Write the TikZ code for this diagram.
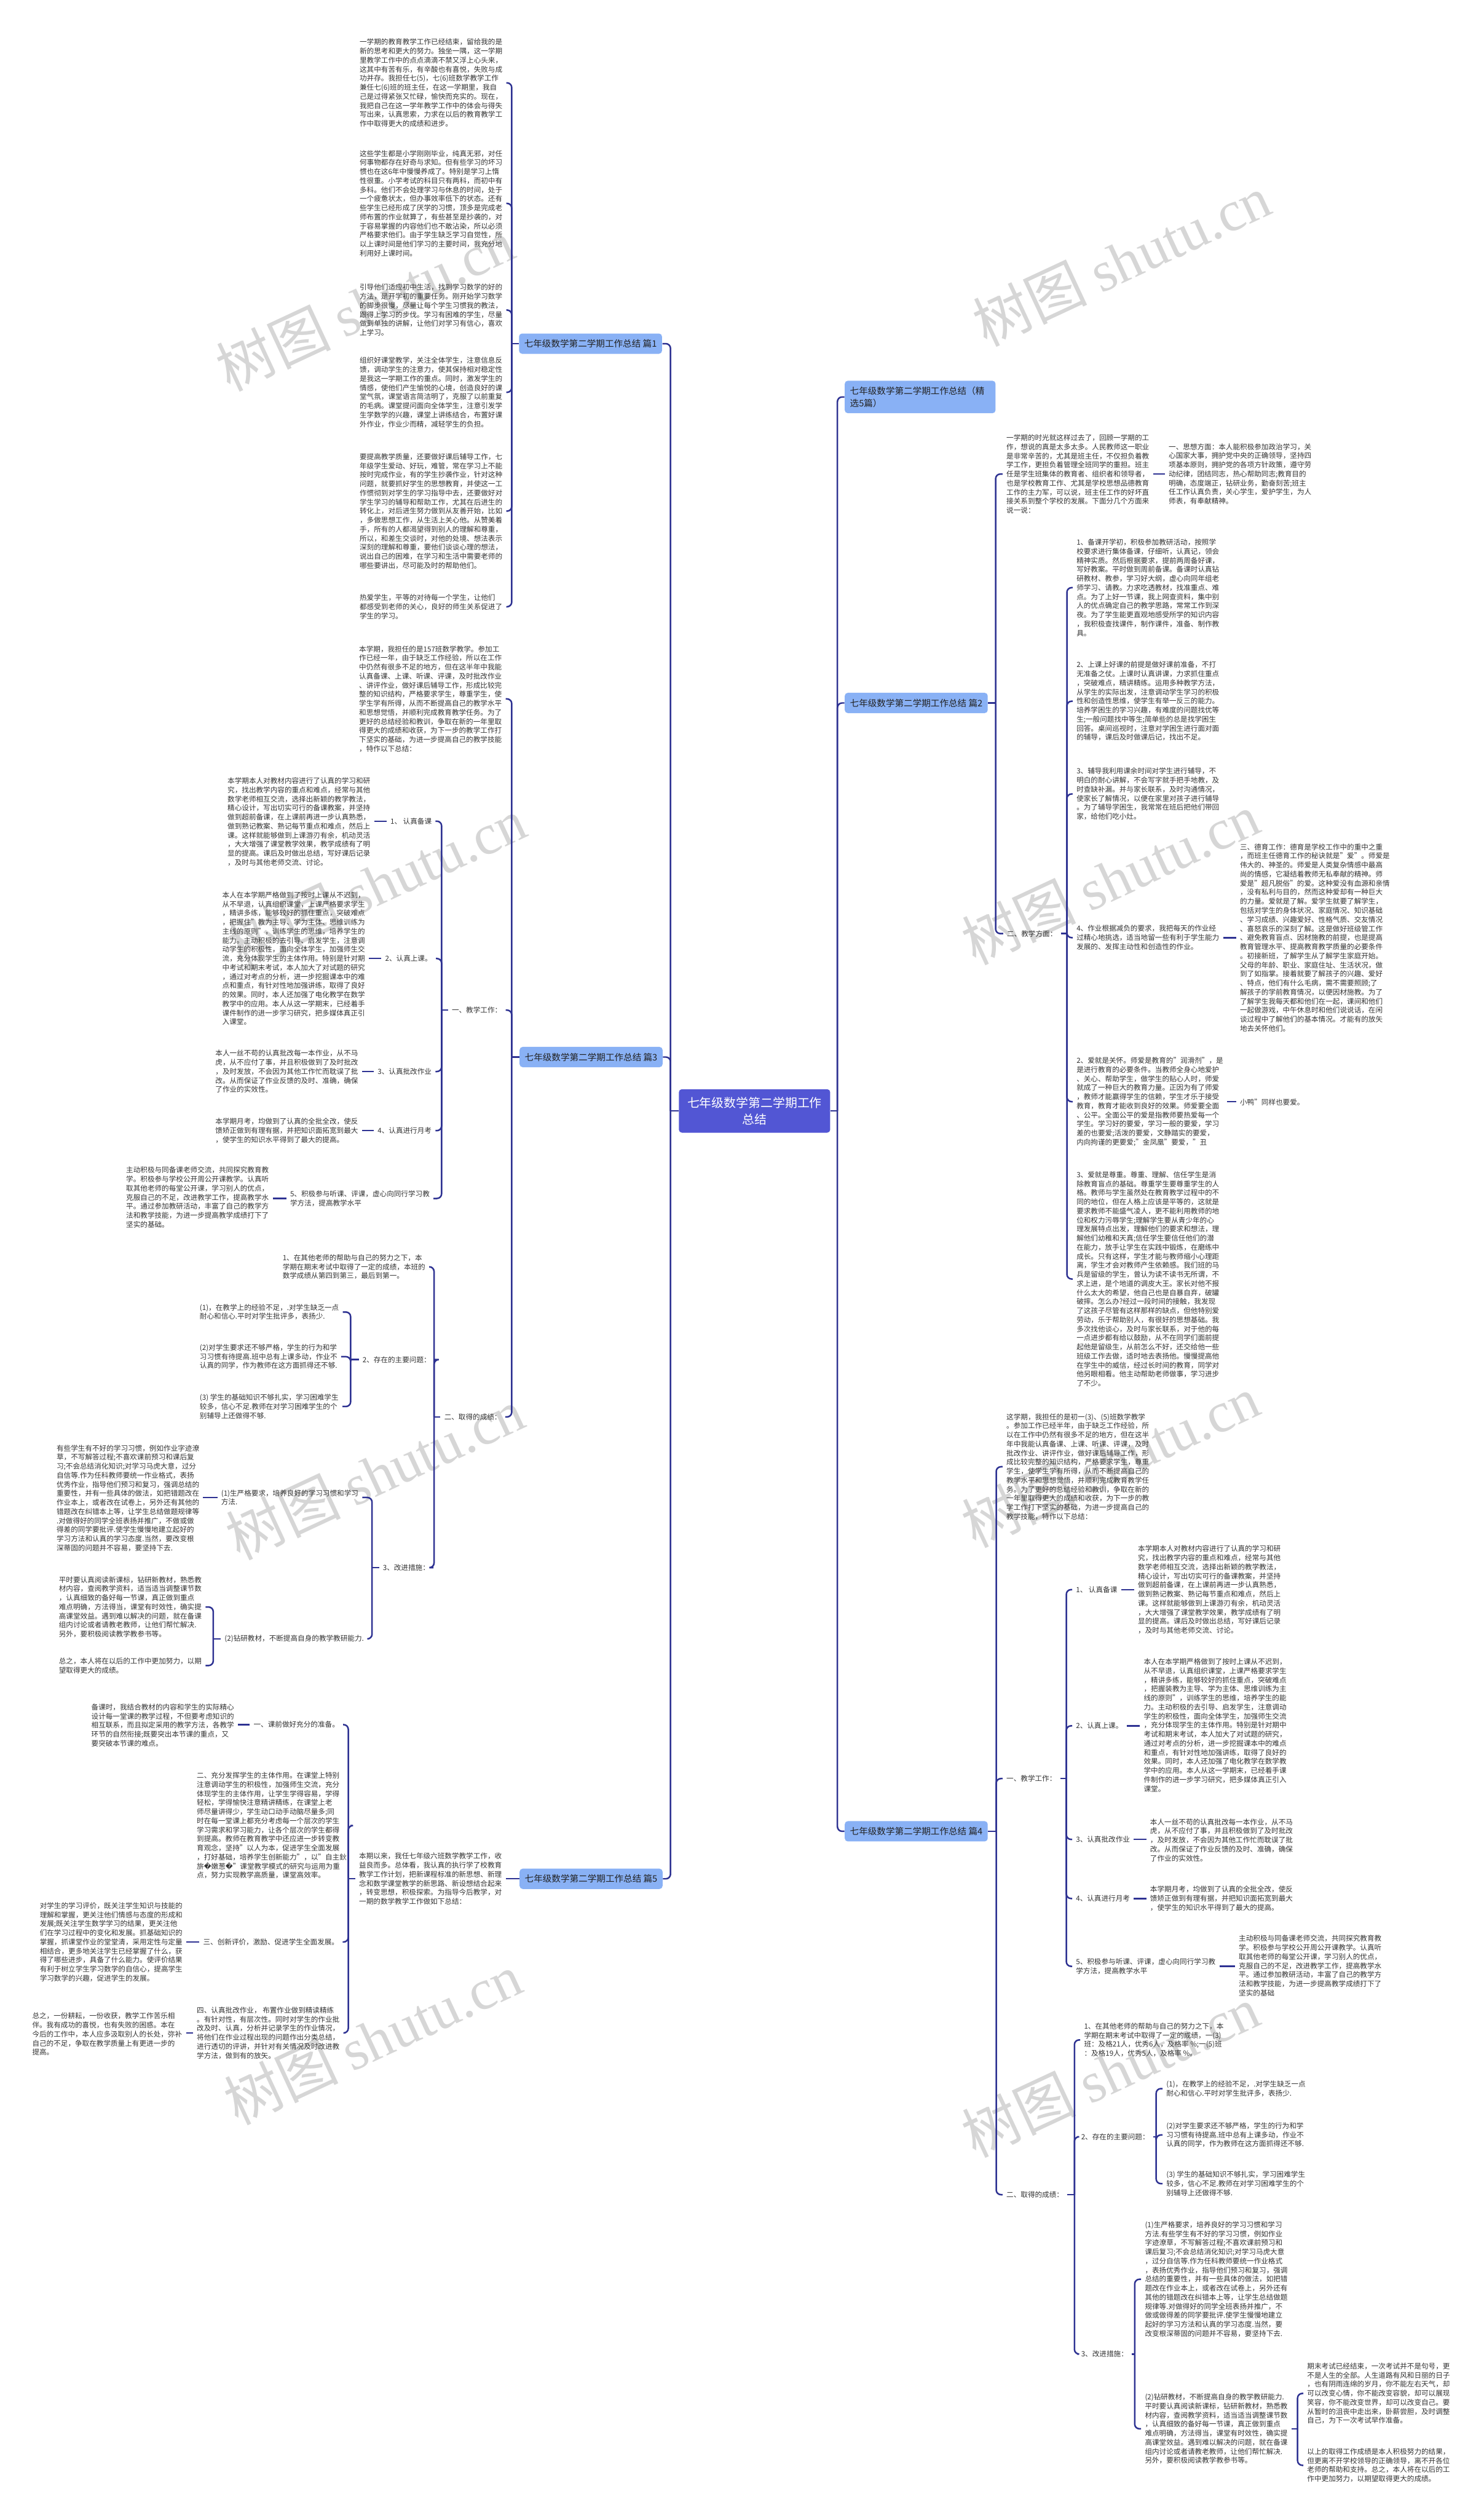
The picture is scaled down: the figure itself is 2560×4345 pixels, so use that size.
\documentclass[tikz,border=0pt]{standalone}
\usepackage{fontspec}
\setmainfont{Noto Sans CJK SC}
\newfontfamily\djv{DejaVu Sans}
\newfontfamily\wmlat{Liberation Serif}
\definecolor{lc}{RGB}{46,50,146}
\definecolor{rc}{RGB}{82,86,212}
\definecolor{bc}{RGB}{137,177,245}
\definecolor{bt}{RGB}{34,34,34}
\definecolor{tc}{RGB}{51,51,51}
\definecolor{wmc}{RGB}{214,214,214}
\newcommand{\qm}{{\djv\symbol{"FFFD}}}
\tikzset{
 conn/.style={draw=lc, line width=0.75pt, rounded corners=2.3pt},
 txt/.style={font=\fontsize{3.5pt}{4.45pt}\selectfont, text=tc, inner xsep=0.06cm, inner ysep=0pt, align=left, anchor=west},
 bx/.style={fill=bc, rounded corners=1.5pt, text=bt, font=\fontsize{4.4pt}{6.2pt}\selectfont, inner xsep=0.09cm, inner ysep=0pt, minimum height=0.35cm, align=left},
 rootn/.style={fill=rc, rounded corners=1.5pt, text=white, font=\fontsize{6pt}{8.2pt}\selectfont, align=center, minimum width=2.61cm, minimum height=0.75cm, inner sep=0pt},
 wm/.style={text=wmc, rotate=25, font=\fontsize{28pt}{30pt}\selectfont, inner sep=0pt}
}
\begin{document}
\begin{tikzpicture}[x=0.01cm,y=-0.01cm]
\fill[white] (0,0) rectangle (2560,4345);
\useasboundingbox (0,0) rectangle (2560,4345);
% watermarks
\foreach \wx/\wy in {630/526, 650/1524, 647/2543, 643/3518, 1935/449, 1916/1516, 1916/2521, 1916/3574}
  \node[wm] at (\wx,\wy) {树图 {\wmlat shutu.cn}};

% root and branches
\node[rootn] (root) at (1302,1917) {七年级数学第二学期工作\\总结};
\node[bx, anchor=east] (p1) at (1143,593) {七年级数学第二学期工作总结 篇1};
\node[bx, anchor=east] (p3) at (1144,1824) {七年级数学第二学期工作总结 篇3};
\node[bx, anchor=east] (p5) at (1144,3242) {七年级数学第二学期工作总结 篇5};
\node[bx, anchor=west, minimum height=0.56cm, text width=2.42cm] (jx) at (1457,685) {七年级数学第二学期工作总结（精\\选5篇）};
\node[bx, anchor=west] (p2) at (1457,1213) {七年级数学第二学期工作总结 篇2};
\node[bx, anchor=west] (p4) at (1457,3160) {七年级数学第二学期工作总结 篇4};

\draw[conn] (root.west) -- (1157,1917);
\draw[conn] (1157,1917) |- (p1.east);
\draw[conn] (1157,1917) |- (p3.east);
\draw[conn] (1157,1917) |- (p5.east);
\draw[conn] (root.east) -- (1445,1917);
\draw[conn] (1445,1917) |- (jx.west);
\draw[conn] (1445,1917) |- (p2.west);
\draw[conn] (1445,1917) |- (p4.west);

% ===== 篇1 =====
\node[txt] (a1) at (614,143) {一学期的教育教学工作已经结束，留给我的是\\新的思考和更大的努力。独坐一隅，这一学期\\里教学工作中的点点滴滴不禁又浮上心头来，\\这其中有苦有乐，有辛酸也有喜悦，失败与成\\功并存。我担任七(5)，七(6)班数学教学工作\\兼任七(6)班的班主任，在这一学期里，我自\\己是过得紧张又忙碌，愉快而充实的。现在，\\我把自己在这一学年教学工作中的体会与得失\\写出来，认真思索，力求在以后的教育教学工\\作中取得更大的成绩和进步。};
\node[txt] (a2) at (614,351) {这些学生都是小学刚刚毕业，纯真无邪，对任\\何事物都存在好奇与求知。但有些学习的坏习\\惯也在这6年中慢慢养成了。特别是学习上惰\\性很重。小学考试的科目只有两科，而初中有\\多科。他们不会处理学习与休息的时间，处于\\一个疲惫状太，但办事效率低下的状态。还有\\些学生已经形成了厌学的习惯，顶多是完成老\\师布置的作业就算了，有些甚至是抄袭的，对\\于容易掌握的内容他们也不敢沾染，所以必须\\严格要求他们。由于学生缺乏学习自觉性，所\\以上课时间是他们学习的主要时间，我充分地\\利用好上课时间。};
\node[txt] (a3) at (614,535) {引导他们适应初中生活，找到学习数学的好的\\方法，是开学初的重要任务。刚开始学习数学\\的脚步很慢，尽量让每个学生习惯我的教法，\\跟得上学习的步伐。学习有困难的学生，尽量\\做到单独的讲解，让他们对学习有信心，喜欢\\上学习。};
\node[txt] (a4) at (614,677) {组织好课堂教学，关注全体学生，注意信息反\\馈，调动学生的注意力，使其保持相对稳定性\\是我这一学期工作的重点。同时，激发学生的\\情感，使他们产生愉悦的心境，创造良好的课\\堂气氛，课堂语言简洁明了，克服了以前重复\\的毛病。课堂提问面向全体学生，注意引发学\\生学数学的兴趣，课堂上讲练结合，布置好课\\外作业，作业少而精，减轻学生的负担。};
\node[txt] (a5) at (614,882) {要提高教学质量，还要做好课后辅导工作，七\\年级学生爱动、好玩，难管，常在学习上不能\\按时完成作业，有的学生抄袭作业，针对这种\\问题，就要抓好学生的思想教育，并使这一工\\作惯彻到对学生的学习指导中去，还要做好对\\学生学习的辅导和帮助工作，尤其在后进生的\\转化上，对后进生努力做到从友善开始，比如\\，多做思想工作，从生活上关心他。从赞美着\\手，所有的人都渴望得到别人的理解和尊重，\\所以，和差生交谈时，对他的处境、想法表示\\深刻的理解和尊重，要他们谈谈心理的想法，\\说出自己的困难，在学习和生活中需要老师的\\哪些要讲出，尽可能及时的帮助他们。};
\node[txt] (a6) at (614,1047) {热爱学生，平等的对待每一个学生，让他们\\都感受到老师的关心，良好的师生关系促进了\\学生的学习。};
\draw[conn] (p1.west) -- (883,593);
\foreach \n in {a1,a2,a3,a4,a5,a6} \draw[conn] (883,593) |- (\n.east);

% ===== 篇3 =====
\node[txt] (b0) at (613,1206) {本学期，我担任的是157班数学教学。参加工\\作已经一年，由于缺乏工作经验，所以在工作\\中仍然有很多不足的地方，但在这半年中我能\\认真备课、上课、听课、评课，及时批改作业\\、讲评作业，做好课后辅导工作，形成比较完\\整的知识结构，严格要求学生，尊重学生，使\\学生学有所得，从而不断提高自己的教学水平\\和思想觉悟，并顺利完成教育教学任务。为了\\更好的总结经验和教训，争取在新的一年里取\\得更大的成绩和收获，为下一步的教学工作打\\下坚实的基础，为进一步提高自己的教学技能\\，特作以下总结：};
\node[txt] (b1) at (773,1743) {一、教学工作：};
\node[txt] (c1) at (667,1417) {1、 认真备课};
\node[txt] (c1t) at (386,1418) {本学期本人对教材内容进行了认真的学习和研\\究，找出教学内容的重点和难点，经常与其他\\数学老师相互交流，选择出新颖的教学教法，\\精心设计，写出切实可行的备课教案，并坚持\\做到超前备课，在上课前再进一步认真熟悉，\\做到熟记教案、熟记每节重点和难点，然后上\\课。这样就能够做到上课游刃有余，机动灵活\\，大大增强了课堂教学效果，教学成绩有了明\\显的提高。课后及时做出总结，写好课后记录\\，及时与其他老师交流、讨论。};
\node[txt] (c2) at (658,1654) {2、认真上课。};
\node[txt] (c2t) at (377,1654) {本人在本学期严格做到了按时上课从不迟到，\\从不早退，认真组织课堂，上课严格要求学生\\，精讲多练，能够较好的抓住重点，突破难点\\，把握住"教为主导、学为主体、思维训练为\\主线的原则"，训练学生的思维，培养学生的\\能力。主动积极的去引导、启发学生，注意调\\动学生的积极性，面向全体学生，加强师生交\\流，充分体现学生的主体作用。特别是针对期\\中考试和期末考试，本人加大了对试题的研究\\，通过对考点的分析，进一步挖掘课本中的难\\点和重点，有针对性地加强讲练，取得了良好\\的效果。同时，本人还加强了电化教学在数学\\教学中的应用。本人从这一学期末，已经着手\\课件制作的进一步学习研究，把多媒体真正引\\入课堂。};
\node[txt] (c3) at (645,1849) {3、认真批改作业};
\node[txt] (c3t) at (365,1849) {本人一丝不苟的认真批改每一本作业，从不马\\虎，从不应付了事，并且积极做到了及时批改\\，及时发放，不会因为其他工作忙而耽误了批\\改。从而保证了作业反馈的及时、准确，确保\\了作业的实效性。};
\node[txt] (c4) at (645,1951) {4、认真进行月考};
\node[txt] (c4t) at (365,1951) {本学期月考，均做到了认真的全批全改，使反\\馈矫正做到有理有据，并把知识面拓宽到最大\\，使学生的知识水平得到了最大的提高。};
\node[txt] (c5) at (494,2068) {5、积极参与听课、评课，虚心向同行学习教\\学方法，提高教学水平};
\node[txt] (c5t) at (211,2066) {主动积极与同备课老师交流，共同探究教育教\\学。积极参与学校公开周公开课教学。认真听\\取其他老师的每堂公开课，学习别人的优点，\\克服自己的不足，改进教学工作，提高教学水\\平。通过参加教研活动，丰富了自己的教学方\\法和教学技能，为进一步提高教学成绩打下了\\坚实的基础。};
\node[txt] (d1) at (760,2445) {二、取得的成绩：};
\node[txt] (d11) at (481,2186) {1、在其他老师的帮助与自己的努力之下，本\\学期在期末考试中取得了一定的成绩，本班的\\数学成绩从第四到第三，最后到第一。};
\node[txt] (d12) at (619,2346) {2、存在的主要问题：};
\node[txt] (d121) at (338,2264) {(1)，在教学上的经验不足，.对学生缺乏一点\\耐心和信心.平时对学生批评多，表扬少.};
\node[txt] (d122) at (338,2341) {(2)对学生要求还不够严格，学生的行为和学\\习习惯有待提高.班中总有上课多动，作业不\\认真的同学，作为教师在这方面抓得还不够.};
\node[txt] (d123) at (338,2427) {(3) 学生的基础知识不够扎实，学习困难学生\\较多，信心不足.教师在对学习困难学生的个\\别辅导上还做得不够.};
\node[txt] (d13) at (654,2705) {3、改进措施：};
\node[txt] (d131) at (375,2584) {(1)生严格要求，培养良好的学习习惯和学习\\方法.};
\node[txt] (d131t) at (91,2585) {有些学生有不好的学习习惯，例如作业字迹潦\\草，不写解答过程;不喜欢课前预习和课后复\\习;不会总结消化知识;对学习马虎大意，过分\\自信等.作为任科教师要统一作业格式，表扬\\优秀作业，指导他们预习和复习，强调总结的\\重要性，并有一些具体的做法，如把错题改在\\作业本上，或者改在试卷上，另外还有其他的\\错题改在纠错本上等，让学生总结做题规律等\\.对做得好的同学全班表扬并推广，不做或做\\得差的同学要批评.使学生慢慢地建立起好的\\学习方法和认真的学习态度.当然，要改变根\\深蒂固的问题并不容易，要坚持下去.};
\node[txt] (d132) at (381,2828) {(2)钻研教材，不断提高自身的教学教研能力.};
\node[txt] (d1321) at (95,2773) {平时要认真阅读新课标，钻研新教材，熟悉教\\材内容，查阅教学资料，适当适当调整课节数\\，认真细致的备好每一节课，真正做到重点\\难点明确，方法得当，课堂有时效性，确实提\\高课堂效益。遇到难以解决的问题，就在备课\\组内讨论或者请教老教师，让他们帮忙解决.\\另外，要积极阅读教学教参书等。};
\node[txt] (d1322) at (95,2874) {总之，本人将在以后的工作中更加努力，以期\\望取得更大的成绩。};
\draw[conn] (p3.west) -- (883,1824);
\foreach \n in {b0,b1,d1} \draw[conn] (883,1824) |- (\n.east);
\draw[conn] (b1.west) -- (762,1743);
\foreach \n in {c1,c2,c3,c4,c5} \draw[conn] (762,1743) |- (\n.east);
\foreach \n in {c1,c2,c3,c4,c5} \draw[conn] (\n.west) -- (\n.west -| \n t.east);
\draw[conn] (d1.west) -- (749,2445);
\foreach \n in {d11,d12,d13} \draw[conn] (749,2445) |- (\n.east);
\draw[conn] (d12.west) -- (605,2346);
\foreach \n in {d121,d122,d123} \draw[conn] (605,2346) |- (\n.east);
\draw[conn] (d13.west) -- (642,2705);
\foreach \n in {d131,d132} \draw[conn] (642,2705) |- (\n.east);
\draw[conn] (d131.west) -- (d131.west -| d131t.east);
\draw[conn] (d132.west) -- (368,2828);
\foreach \n in {d1321,d1322} \draw[conn] (368,2828) |- (\n.east);

% ===== 篇5 =====
\node[txt] (e0) at (613,3242) {本期以来，我任七年级六班数学教学工作，收\\益良而多。总体看，我认真的执行学了校教育\\教学工作计划，把新课程标准的新思想、新理\\念和数学课堂教学的新思路、新设想结合起来\\，转变思想，积极探索。为指导今后教学，对\\一期的数学教学工作做如下总结：};
\node[txt] (e1) at (431,2976) {一、课前做好充分的准备。};
\node[txt] (e1t) at (151,2977) {备课时，我结合教材的内容和学生的实际精心\\设计每一堂课的教学过程，不但要考虑知识的\\相互联系，而且拟定采用的教学方法，各教学\\环节的自然衔接;既要突出本节课的重点，又\\要突破本节课的难点。};
\node[txt] (e2) at (333,3150) {二、充分发挥学生的主体作用。在课堂上特别\\注意调动学生的积极性，加强师生交流，充分\\体现学生的主体作用，让学生学得容易，学得\\轻松，学得愉快注意精讲精练，在课堂上老\\师尽量讲得少，学生动口动手动脑尽量多;同\\时在每一堂课上都充分考虑每一个层次的学生\\学习需求和学习能力，让各个层次的学生都得\\到提高。教师在教育教学中还应进一步转变教\\育观念，坚持"以人为本，促进学生全面发展\\，打好基础，培养学生创新能力"，以"自主鈥\\旂\qm 嫩葱\qm "课堂教学模式的研究与运用为重\\点，努力实现教学高质量，课堂高效率。};
\node[txt] (e3) at (344,3351) {三、创新评价，激励、促进学生全面发展。};
\node[txt] (e3t) at (62,3351) {对学生的学习评价，既关注学生知识与技能的\\理解和掌握，更关注他们情感与态度的形成和\\发展;既关注学生数学学习的结果，更关注他\\们在学习过程中的变化和发展。抓基础知识的\\掌握，抓课堂作业的堂堂清，采用定性与定量\\相结合，更多地关注学生已经掌握了什么，获\\得了哪些进步，具备了什么能力。使评价结果\\有利于树立学生学习数学的自信心，提高学生\\学习数学的兴趣，促进学生的发展。};
\node[txt] (e4) at (333,3508) {四、认真批改作业， 布置作业做到精读精练\\。有针对性，有层次性。同时对学生的作业批\\改及时、认真，分析并记录学生的作业情况，\\将他们在作业过程出现的问题作出分类总结，\\进行透切的评讲，并针对有关情况及时改进教\\学方法，做到有的放矢。};
\node[txt] (e4t) at (49,3510) {总之，一份耕耘，一份收获，教学工作苦乐相\\伴。我有成功的喜悦，也有失败的困惑。本在\\今后的工作中，本人应多汲取别人的长处，弥补\\自己的不足，争取在教学质量上有更进一步的\\提高。};
\draw[conn] (p5.west) -- (p5.west -| e0.east);
\draw[conn] (e0.west) -- (601,3242);
\foreach \n in {e1,e2,e3,e4} \draw[conn] (601,3242) |- (\n.east);
\foreach \n in {e1,e3,e4} \draw[conn] (\n.west) -- (\n.west -| \n t.east);

% ===== 篇2 =====
\node[txt] (f0) at (1730,818) {一学期的时光就这样过去了，回顾一学期的工\\作，想说的真是太多太多。人民教师这一职业\\是非常辛苦的，尤其是班主任，不仅担负着教\\学工作，更担负着管理全班同学的重担。班主\\任是学生班集体的教育者、组织者和领导者，\\也是学校教育工作、尤其是学校思想品德教育\\工作的主力军，可以说，班主任工作的好坏直\\接关系到整个学校的发展。下面分几个方面来\\说一说：};
\node[txt] (f0c) at (2010,818) {一、思想方面：本人能积极参加政治学习，关\\心国家大事，拥护党中央的正确领导，坚持四\\项基本原则，拥护党的各项方针政策，遵守劳\\动纪律，团结同志，热心帮助同志;教育目的\\明确，态度端正，钻研业务，勤奋刻苦;班主\\任工作认真负责，关心学生，爱护学生，为人\\师表，有奉献精神。};
\node[txt] (f1) at (1731,1611) {二、教学方面：};
\node[txt] (f11) at (1851,1014) {1、备课开学初，积极参加教研活动，按照学\\校要求进行集体备课，仔细听，认真记，领会\\精神实质。然后根据要求，提前两周备好课，\\写好教案。平时做到周前备课。备课时认真钻\\研教材、教参，学习好大纲，虚心向同年组老\\师学习、请教。力求吃透教材，找准重点、难\\点。为了上好一节课，我上网查资料，集中别\\人的优点确定自己的教学思路，常常工作到深\\夜。为了学生能更直观地感受所学的知识内容\\，我积极查找课件，制作课件，准备、制作教\\具。};
\node[txt] (f12) at (1851,1210) {2、上课上好课的前提是做好课前准备，不打\\无准备之仗。上课时认真讲课，力求抓住重点\\，突破难点，精讲精练。运用多种教学方法，\\从学生的实际出发，注意调动学生学习的积极\\性和创造性思维，使学生有举一反三的能力。\\培养学困生的学习兴趣，有难度的问题找优等\\生;一般问题找中等生;简单些的总是找学困生\\回答。桌间巡视时，注意对学困生进行面对面\\的辅导，课后及时做课后记，找出不足。};
\node[txt] (f13) at (1851,1370) {3、辅导我利用课余时间对学生进行辅导，不\\明白的耐心讲解，不会写字就手把手地教，及\\时查缺补漏。并与家长联系，及时沟通情况，\\使家长了解情况，以便在家里对孩子进行辅导\\。为了辅导学困生，我常常在班后把他们带回\\家，给他们吃小灶。};
\node[txt] (f14) at (1851,1618) {4、作业根据减负的要求，我把每天的作业经\\过精心地挑选，适当地留一些有利于学生能力\\发展的、发挥主动性和创造性的作业。};
\node[txt] (f14c) at (2133,1618) {三、德育工作：德育是学校工作中的重中之重\\，而班主任德育工作的秘诀就是"爱"。师爱是\\伟大的、神圣的。师爱是人类复杂情感中最高\\尚的情感，它凝结着教师无私奉献的精神。师\\爱是"超凡脱俗"的爱。这种爱没有血源和亲情\\，没有私利与目的，然而这种爱却有一种巨大\\的力量。爱就是了解。爱学生就要了解学生，\\包括对学生的身体状况、家庭情况、知识基础\\、学习成绩、兴趣爱好、性格气质、交友情况\\、喜怒哀乐的深刻了解。这是做好班级管工作\\、避免教育盲点、因材施教的前提，也是提高\\教育管理水平、提高教育教学质量的必要条件\\。初接新班，了解学生从了解学生家庭开始。\\父母的年龄、职业、家庭住址、生活状况，做\\到了如指掌。接着就要了解孩子的兴趣、爱好\\、特点，他们有什么毛病，需不需要照顾;了\\解孩子的学前教育情况，以便因材施教。为了\\了解学生我每天都和他们在一起，课间和他们\\一起做游戏，中午休息时和他们说说话，在闲\\谈过程中了解他们的基本情况。才能有的放矢\\地去关怀他们。};
\node[txt] (f15) at (1851,1901) {2、爱就是关怀。师爱是教育的"润滑剂"，是\\是进行教育的必要条件。当教师全身心地爱护\\、关心、帮助学生，做学生的贴心人时，师爱\\就成了一种巨大的教育力量。正因为有了师爱\\，教师才能赢得学生的信赖，学生才乐于接受\\教育，教育才能收到良好的效果。师爱要全面\\、公平。全面公平的爱是指教师要热爱每一个\\学生。学习好的要爱，学习一般的要爱，学习\\差的也要爱;活泼的要爱，文静踏实的要爱，\\内向拘谨的更要爱;"金凤凰"要爱，"丑};
\node[txt] (f15c) at (2133,1902) {小鸭"同样也要爱。};
\node[txt] (f16) at (1851,2207) {3、爱就是尊重。尊重、理解、信任学生是消\\除教育盲点的基础。尊重学生要尊重学生的人\\格。教师与学生虽然处在教育教学过程中的不\\同的地位，但在人格上应该是平等的，这就是\\要求教师不能盛气凌人，更不能利用教师的地\\位和权力污辱学生;理解学生要从青少年的心\\理发展特点出发，理解他们的要求和想法，理\\解他们幼稚和天真;信任学生要信任他们的潜\\在能力，放手让学生在实践中锻炼，在磨练中\\成长。只有这样，学生才能与教师缩小心理距\\离，学生才会对教师产生依赖感。我们班的马\\兵是留级的学生，曾认为读不读书无所谓，不\\求上进，是个地道的调皮大王。家长对他不报\\什么太大的希望，他自己也是自暴自弃，破罐\\破摔。怎么办?经过一段时间的接触，我发现\\了这孩子尽管有这样那样的缺点，但他特别爱\\劳动，乐于帮助别人，有很好的思想基础。我\\多次找他谈心，及时与家长联系，对于他的每\\一点进步都有给以鼓励，从不在同学们面前提\\起他是留级生，从前怎么不好，还交给他一些\\班级工作去做，适时地去表扬他。慢慢提高他\\在学生中的威信，经过长时间的教育，同学对\\他另眼相看。他主动帮助老师做事，学习进步\\了不少。};
\draw[conn] (p2.east) -- (1718,1213);
\foreach \n in {f0,f1} \draw[conn] (1718,1213) |- (\n.west);
\draw[conn] (f0.east) -- (f0.east -| f0c.west);
\draw[conn] (f1.east) -- (1841,1611);
\foreach \n in {f11,f12,f13,f14,f15,f16} \draw[conn] (1841,1611) |- (\n.west);
\draw[conn] (f14.east) -- (f14.east -| f14c.west);
\draw[conn] (f15.east) -- (f15.east -| f15c.west);

% ===== 篇4 =====
\node[txt] (g0) at (1730,2531) {这学期，我担任的是初一(3)、(5)班数学教学\\。参加工作已经半年，由于缺乏工作经验，所\\以在工作中仍然有很多不足的地方，但在这半\\年中我能认真备课、上课、听课、评课，及时\\批改作业、讲评作业，做好课后辅导工作，形\\成比较完整的知识结构，严格要求学生，尊重\\学生，使学生学有所得，从而不断提高自己的\\教学水平和思想觉悟，并顺利完成教育教学任\\务。为了更好的总结经验和教训，争取在新的\\一年里取得更大的成绩和收获，为下一步的教\\学工作打下坚实的基础，为进一步提高自己的\\教学技能，特作以下总结：};
\node[txt] (g1) at (1730,3069) {一、教学工作：};
\node[txt] (g11) at (1850,2743) {1、 认真备课};
\node[txt] (g11t) at (1957,2743) {本学期本人对教材内容进行了认真的学习和研\\究，找出教学内容的重点和难点，经常与其他\\数学老师相互交流，选择出新颖的教学教法，\\精心设计，写出切实可行的备课教案，并坚持\\做到超前备课，在上课前再进一步认真熟悉，\\做到熟记教案、熟记每节重点和难点，然后上\\课。这样就能够做到上课游刃有余，机动灵活\\，大大增强了课堂教学效果，教学成绩有了明\\显的提高。课后及时做出总结，写好课后记录\\，及时与其他老师交流、讨论。};
\node[txt] (g12) at (1850,2978) {2、认真上课。};
\node[txt] (g12t) at (1967,2977) {本人在本学期严格做到了按时上课从不迟到，\\从不早退，认真组织课堂，上课严格要求学生\\，精讲多练，能够较好的抓住重点，突破难点\\，把握装教为主导、学为主体、思维训练为主\\线的原则"，训练学生的思维，培养学生的能\\力。主动积极的去引导、启发学生，注意调动\\学生的积极性，面向全体学生，加强师生交流\\，充分体现学生的主体作用。特别是针对期中\\考试和期末考试，本人加大了对试题的研究，\\通过对考点的分析，进一步挖掘课本中的难点\\和重点，有针对性地加强讲练，取得了良好的\\效果。同时，本人还加强了电化教学在数学教\\学中的应用。本人从这一学期末，已经着手课\\件制作的进一步学习研究，把多媒体真正引入\\课堂。};
\node[txt] (g13) at (1850,3174) {3、认真批改作业};
\node[txt] (g13t) at (1978,3175) {本人一丝不苟的认真批改每一本作业，从不马\\虎，从不应付了事，并且积极做到了及时批改\\，及时发放，不会因为其他工作忙而耽误了批\\改。从而保证了作业反馈的及时、准确，确保\\了作业的实效性。};
\node[txt] (g14) at (1850,3276) {4、认真进行月考};
\node[txt] (g14t) at (1978,3276) {本学期月考，均做到了认真的全批全改，使反\\馈矫正做到有理有据，并把知识面拓宽到最大\\，使学生的知识水平得到了最大的提高。};
\node[txt] (g15) at (1850,3393) {5、积极参与听课、评课，虚心向同行学习教\\学方法，提高教学水平};
\node[txt] (g15t) at (2131,3392) {主动积极与同备课老师交流，共同探究教育教\\学。积极参与学校公开周公开课教学。认真听\\取其他老师的每堂公开课，学习别人的优点，\\克服自己的不足，改进教学工作，提高教学水\\平。通过参加教研活动，丰富了自己的教学方\\法和教学技能，为进一步提高教学成绩打下了\\坚实的基础};
\node[txt] (g2) at (1730,3787) {二、取得的成绩：};
\node[txt] (g21) at (1864,3520) {1、在其他老师的帮助与自己的努力之下，本\\学期在期末考试中取得了一定的成绩，一(3)\\班：及格21人，优秀6人，及格率 \%;一(5)班\\：及格19人，优秀5人，及格率 \%。};
\node[txt] (g22) at (1859,3687) {2、存在的主要问题：};
\node[txt] (g221) at (2006,3604) {(1)，在教学上的经验不足，.对学生缺乏一点\\耐心和信心.平时对学生批评多，表扬少.};
\node[txt] (g222) at (2006,3684) {(2)对学生要求还不够严格，学生的行为和学\\习习惯有待提高.班中总有上课多动，作业不\\认真的同学，作为教师在这方面抓得还不够.};
\node[txt] (g223) at (2006,3768) {(3) 学生的基础知识不够扎实，学习困难学生\\较多，信心不足.教师在对学习困难学生的个\\别辅导上还做得不够.};
\node[txt] (g23) at (1859,4062) {3、改进措施：};
\node[txt] (g231) at (1969,3933) {(1)生严格要求，培养良好的学习习惯和学习\\方法.有些学生有不好的学习习惯，例如作业\\字迹潦草，不写解答过程;不喜欢课前预习和\\课后复习;不会总结消化知识;对学习马虎大意\\，过分自信等.作为任科教师要统一作业格式\\，表扬优秀作业，指导他们预习和复习，强调\\总结的重要性，并有一些具体的做法，如把错\\题改在作业本上，或者改在试卷上，另外还有\\其他的错题改在纠错本上等，让学生总结做题\\规律等.对做得好的同学全班表扬并推广，不\\做或做得差的同学要批评.使学生慢慢地建立\\起好的学习方法和认真的学习态度.当然，要\\改变根深蒂固的问题并不容易，要坚持下去.};
\node[txt] (g232) at (1969,4191) {(2)钻研教材，不断提高自身的教学教研能力.\\平时要认真阅读新课标，钻研新教材，熟悉教\\材内容，查阅教学资料，适当适当调整课节数\\，认真细致的备好每一节课，真正做到重点\\难点明确，方法得当，课堂有时效性，确实提\\高课堂效益。遇到难以解决的问题，就在备课\\组内讨论或者请教老教师，让他们帮忙解决.\\另外，要积极阅读教学教参书等。};
\node[txt] (g2321) at (2249,4130) {期末考试已经结束，一次考试并不是句号，更\\不是人生的全部。人生道路有风和日丽的日子\\，也有阴雨连绵的岁月，你不能左右天气，却\\可以改变心情，你不能改变容貌，却可以展现\\笑容，你不能改变世界，却可以改变自己。要\\从暂时的沮丧中走出来，卧薪尝胆，及时调整\\自己，为下一次考试早作准备。};
\node[txt] (g2322) at (2249,4254) {以上的取得工作成绩是本人积极努力的结果，\\但更离不开学校领导的正确领导，离不开各位\\老师的帮助和支持。总之，本人将在以后的工\\作中更加努力，以期望取得更大的成绩。};
\draw[conn] (p4.east) -- (1719,3160);
\foreach \n in {g0,g1,g2} \draw[conn] (1719,3160) |- (\n.west);
\draw[conn] (g1.east) -- (1840,3069);
\foreach \n in {g11,g12,g13,g14,g15} \draw[conn] (1840,3069) |- (\n.west);
\foreach \n in {g11,g12,g13,g14,g15} \draw[conn] (\n.east) -- (\n.east -| \n t.west);
\draw[conn] (g2.east) -- (1854,3787);
\foreach \n in {g21,g22,g23} \draw[conn] (1854,3787) |- (\n.west);
\draw[conn] (g22.east) -- (1995,3687);
\foreach \n in {g221,g222,g223} \draw[conn] (1995,3687) |- (\n.west);
\draw[conn] (g23.east) -- (1958,4062);
\foreach \n in {g231,g232} \draw[conn] (1958,4062) |- (\n.west);
\draw[conn] (g232.east) -- (2239,4191);
\foreach \n in {g2321,g2322} \draw[conn] (2239,4191) |- (\n.west);
\end{tikzpicture}
\end{document}
